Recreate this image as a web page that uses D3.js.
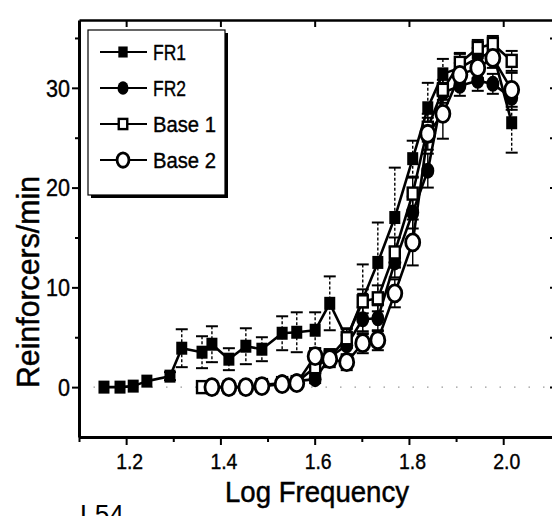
<!DOCTYPE html>
<html>
<head>
<meta charset="utf-8">
<script src="https://cdn.jsdelivr.net/npm/d3@7/dist/d3.min.js"></script>
<style>
  body { margin: 0; background: #fff; }
  svg { display: block; }
  text { font-family: "Liberation Sans", Arial, sans-serif; fill: #000; }
</style>
</head>
<body>
<svg id="chart" width="552" height="516"></svg>
<script>
// ---- data: reinforcers/min as a function of log frequency ----
const fr1X   = [1.153,1.187,1.215,1.244,1.293,1.318,1.361,1.382,1.418,1.454,1.488,1.531,1.562,1.601,1.632,1.668,1.702,1.734,1.770,1.808,1.840,1.872,1.908,1.946,1.978,2.018];
const fr1Y   = [0,0,0.1,0.6,1.1,3.9,3.5,4.3,2.8,4.1,3.8,5.4,5.5,5.7,8.4,4.9,8.8,12.5,17.0,22.9,28.0,31.4,32.0,33.0,33.6,26.5];
const fr1Err = [0,0,0,0,0.4,1.9,1.6,1.8,1.1,1.8,1.2,1.7,2.0,1.8,2.7,0.9,3.5,4.0,5.0,1.8,2.5,1.5,1.4,1.0,0.8,3.0];

const fr2X   = [1.531,1.562,1.601,1.632,1.668,1.702,1.734,1.770,1.808,1.840,1.872,1.908,1.946,1.978,2.018];
const fr2Y   = [0.5,0.6,0.8,3.0,4.2,6.8,6.9,12.5,17.5,21.7,29.5,30.2,30.7,30.4,29.0];
const fr2Err = [0.3,0.3,0.4,0.8,1.0,1.2,1.3,1.5,1.6,1.7,1.0,1.0,1.0,1.0,1.2];

const base1X   = [1.361,1.382,1.418,1.454,1.488,1.531,1.562,1.601,1.632,1.668,1.702,1.734,1.770,1.808,1.840,1.872,1.908,1.946,1.978,2.018];
const base1Y   = [0,0,0,0,0.2,0.4,0.5,2.0,3.0,4.9,8.6,8.9,13.5,19.4,26.0,29.8,32.5,34.0,34.4,32.7];
const base1Err = [0,0,0,0,0.2,0.3,0.3,0.6,0.8,1.0,1.2,1.3,1.5,1.6,1.4,1.0,1.0,0.8,0.8,1.0];

const base2X   = [1.382,1.418,1.454,1.488,1.531,1.562,1.601,1.632,1.668,1.702,1.734,1.770,1.808,1.840,1.872,1.908,1.946,1.978,2.018];
const base2Y   = [0,0,0,0.1,0.3,0.4,3.1,2.8,2.5,4.4,4.7,9.4,14.5,25.4,27.4,31.3,32.0,33.0,29.8];
const base2Err = [0,0,0,0.1,0.3,0.3,0.8,0.8,0.8,1.0,1.0,1.4,2.3,1.6,2.5,1.2,1.0,1.0,1.7];

const seriesNames = ["FR1", "FR2", "Base 1", "Base 2"];
const xMajorTicks = [1.2, 1.4, 1.6, 1.8, 2.0];
const xTickLabels = ["1.2", "1.4", "1.6", "1.8", "2.0"];
const xMinorTicks = [1.1, 1.3, 1.5, 1.7, 1.9];
const yMajorTicks = [0, 10, 20, 30];
const yTickLabels = ["0", "10", "20", "30"];
const yMinorTicks = [5, 15, 25, 35];
const xTitle = "Log Frequency";
const yTitle = "Reinforcers/min";
const footText = "L54";

// ---- layout ----
const svg = d3.select("#chart");
const x = d3.scaleLinear().domain([1.1, 2.112]).range([79, 556]);
const y = d3.scaleLinear().domain([-5, 36.8]).range([437, 20]);

const zip = (xs, ys, es) => xs.map((v, i) => ({ x: v, y: ys[i], e: es[i] }));
const series = [
  { name: seriesNames[0], data: zip(fr1X, fr1Y, fr1Err), marker: "fsquare", dashedErr: true },
  { name: seriesNames[1], data: zip(fr2X, fr2Y, fr2Err), marker: "fcircle", dashedErr: false },
  { name: seriesNames[2], data: zip(base1X, base1Y, base1Err), marker: "osquare", dashedErr: false },
  { name: seriesNames[3], data: zip(base2X, base2Y, base2Err), marker: "ocircle", dashedErr: false }
];

// faint dotted zero line
svg.append("line")
  .attr("x1", x(1.1)).attr("x2", x(2.112))
  .attr("y1", y(0)).attr("y2", y(0))
  .attr("stroke", "#999").attr("stroke-width", 1.2)
  .attr("stroke-dasharray", "1.5,13");

// ---- axes ----
function styleAxis(g, width) {
  g.select(".domain").attr("stroke", "#000").attr("stroke-width", width);
  g.selectAll(".tick line").attr("stroke", "#000").attr("stroke-width", 2);
}

const xAxis = svg.append("g").attr("transform", `translate(0,${y(-5)})`)
  .call(d3.axisBottom(x).tickValues(xMajorTicks).tickSize(8).tickSizeOuter(0)
        .tickFormat((d, i) => xTickLabels[i]));
styleAxis(xAxis, 3);
xAxis.selectAll(".tick text")
  .attr("font-size", 22).attr("dy", 0).attr("y", 32).attr("dx", 3)
  .attr("textLength", 27).attr("lengthAdjust", "spacingAndGlyphs")
  .attr("stroke", "#000").attr("stroke-width", 0.4);

const xMinor = svg.append("g").attr("transform", `translate(0,${y(-5)})`)
  .call(d3.axisBottom(x).tickValues(xMinorTicks).tickSize(5).tickSizeOuter(0).tickFormat(""));
styleAxis(xMinor, 0);
xMinor.select(".domain").remove();

const yAxis = svg.append("g").attr("transform", `translate(${x(1.1)},0)`)
  .call(d3.axisLeft(y).tickValues(yMajorTicks).tickSize(7).tickSizeOuter(0)
        .tickFormat((d, i) => yTickLabels[i]));
styleAxis(yAxis, 3);
yAxis.selectAll(".tick text")
  .attr("font-size", 23).attr("x", -9).attr("dy", "0.36em")
  .attr("textLength", (d, i) => yTickLabels[i].length * 12)
  .attr("lengthAdjust", "spacingAndGlyphs")
  .attr("stroke", "#000").attr("stroke-width", 0.4);

const yMinor = svg.append("g").attr("transform", `translate(${x(1.1)},0)`)
  .call(d3.axisLeft(y).tickValues(yMinorTicks).tickSize(4).tickSizeOuter(0).tickFormat(""));
styleAxis(yMinor, 0);
yMinor.select(".domain").remove();

// top and right frame with inward ticks
const topAxis = svg.append("g").attr("transform", `translate(0,${y(36.8)})`)
  .call(d3.axisTop(x).tickValues(xMajorTicks).tickSize(-7).tickSizeOuter(0).tickFormat(""));
styleAxis(topAxis, 2.5);

const rightAxis = svg.append("g").attr("transform", `translate(${x(2.112)},0)`)
  .call(d3.axisRight(y).tickValues(yMajorTicks.concat(yMinorTicks)).tickSize(-6).tickSizeOuter(0).tickFormat(""));
styleAxis(rightAxis, 2.5);

// ---- axis titles ----
svg.append("text")
  .attr("x", 225).attr("y", 502)
  .attr("font-size", 30)
  .attr("textLength", 184).attr("lengthAdjust", "spacingAndGlyphs")
  .attr("stroke", "#000").attr("stroke-width", 0.5)
  .text(xTitle);

svg.append("text")
  .attr("transform", "translate(39,388) rotate(-90)")
  .attr("font-size", 32)
  .attr("textLength", 212).attr("lengthAdjust", "spacingAndGlyphs")
  .attr("stroke", "#000").attr("stroke-width", 0.5)
  .text(yTitle);

svg.append("text")
  .attr("x", 80).attr("y", 524)
  .attr("font-size", 27)
  .attr("textLength", 44).attr("lengthAdjust", "spacingAndGlyphs")
  .text(footText);

// ---- error bars ----
const plot = svg.append("g");
series.forEach(s => {
  const g = plot.append("g");
  const withErr = s.data.filter(d => d.e > 0);
  g.selectAll("line.bar").data(withErr).join("line")
    .attr("x1", d => x(d.x)).attr("x2", d => x(d.x))
    .attr("y1", d => y(d.y + d.e)).attr("y2", d => y(d.y - d.e))
    .attr("stroke", "#000").attr("stroke-width", 1.4)
    .attr("stroke-dasharray", s.dashedErr ? "3,2" : null);
  [1, -1].forEach(sign => {
    g.selectAll("line.cap" + sign).data(withErr).join("line")
      .attr("x1", d => x(d.x) - 6).attr("x2", d => x(d.x) + 6)
      .attr("y1", d => y(d.y + sign * d.e)).attr("y2", d => y(d.y + sign * d.e))
      .attr("stroke", "#000").attr("stroke-width", 2);
  });
});

// ---- connecting lines ----
const line = d3.line().x(d => x(d.x)).y(d => y(d.y));
series.forEach(s => {
  plot.append("path").datum(s.data)
    .attr("d", line)
    .attr("fill", "none").attr("stroke", "#000")
    .attr("stroke-width", 2.6).attr("stroke-linejoin", "round");
});

// ---- markers ----
function drawMarker(sel, type, scale) {
  const k = scale || 1;
  if (type === "fsquare") {
    sel.append("rect").attr("x", -5.5 * k).attr("y", -6.5 * k)
      .attr("width", 11 * k).attr("height", 13 * k).attr("fill", "#000");
  } else if (type === "fcircle") {
    sel.append("ellipse").attr("rx", 6.5 * k).attr("ry", 8 * k).attr("fill", "#000");
  } else if (type === "osquare") {
    sel.append("rect").attr("x", -5 * k).attr("y", -6 * k)
      .attr("width", 10 * k).attr("height", 12 * k)
      .attr("fill", "#fff").attr("stroke", "#000").attr("stroke-width", 2.4);
  } else {
    sel.append("ellipse").attr("rx", 7 * k).attr("ry", 8.5 * k)
      .attr("fill", "#fff").attr("stroke", "#000").attr("stroke-width", 2.8);
  }
}

series.forEach(s => {
  plot.append("g").selectAll("g").data(s.data).join("g")
    .attr("transform", d => `translate(${x(d.x)},${y(d.y)})`)
    .each(function () { drawMarker(d3.select(this), s.marker); });
});

// ---- legend ----
const legend = svg.append("g");
legend.append("rect").attr("x", 91).attr("y", 33).attr("width", 137).attr("height", 165)
  .attr("fill", "#000");
legend.append("rect").attr("x", 88).attr("y", 30).attr("width", 137).attr("height", 165)
  .attr("fill", "#fff").attr("stroke", "#000").attr("stroke-width", 1.2);

const legendRows = [52, 88, 124, 160];
series.forEach((s, i) => {
  const row = legend.append("g").attr("transform", `translate(0,${legendRows[i]})`);
  row.append("line").attr("x1", 100).attr("x2", 147).attr("y1", 0).attr("y2", 0)
    .attr("stroke", "#000").attr("stroke-width", 2);
  const m = row.append("g").attr("transform", "translate(123,0)");
  drawMarker(m, s.marker, 0.85);
  row.append("text").attr("x", 153).attr("y", 0).attr("dy", "0.36em")
    .attr("font-size", 22)
    .attr("textLength", s.name.length > 3 ? 63 : 33).attr("lengthAdjust", "spacingAndGlyphs")
    .attr("stroke", "#000").attr("stroke-width", 0.4)
    .text(s.name);
});
</script>
</body>
</html>
